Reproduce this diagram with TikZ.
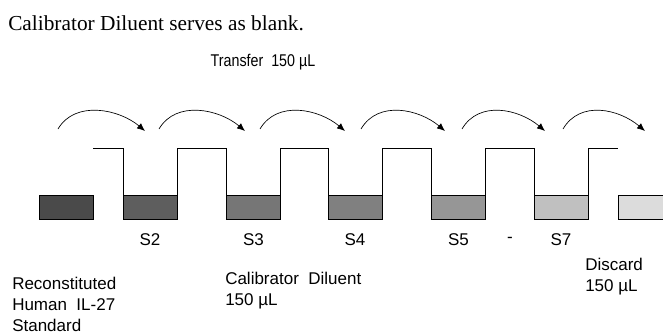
\documentclass[tikz,border=0pt]{standalone}
\usepackage{fontspec}
\setmainfont{Liberation Sans}
\newfontfamily\notefont{Liberation Serif}
\usetikzlibrary{positioning,arrows.meta}

\definecolor{stdgray}{HTML}{4A4A4A}
\definecolor{gray2}{HTML}{5E5E5E}
\definecolor{gray3}{HTML}{767676}
\definecolor{gray4}{HTML}{808080}
\definecolor{gray5}{HTML}{969696}
\definecolor{gray7}{HTML}{C0C0C0}
\definecolor{wastegray}{HTML}{DCDCDC}

\tikzset{
  well/.style={draw=black, line width=0.7pt, minimum width=40.5pt, minimum height=18pt, inner sep=0pt, outer sep=0pt},
  lbl/.style={font=\fontsize{12.75}{15.75}\selectfont, inner sep=0pt},
  transfer/.style={-{Latex[length=6pt,width=5pt]}, line width=0.5pt},
  plate/.style={line width=0.7pt}
}

\begin{document}
\begin{tikzpicture}[x=0.75pt,y=-0.75pt]
  \useasboundingbox (0,0) rectangle (663,335);

  \node[anchor=base west, inner sep=0pt, font=\notefont\fontsize{16}{19}\selectfont] (note) at (8,31) {Calibrator Diluent serves as blank.};
  \node[lbl] (transfer) at (263,62) {\scalebox{0.84}[1]{Transfer~ 150 µL}};

  % tubes
  \node[well, fill=stdgray] (std) at (66.5,207) {};
  \node[well, fill=gray2] (s2) at (150,207) {};
  \node[well, fill=gray3] (s3) at (253.5,207) {};
  \node[well, fill=gray4] (s4) at (355,207) {};
  \node[well, fill=gray5] (s5) at (458.5,207) {};
  \node[well, fill=gray7] (s7) at (561,207) {};
  \node[well, fill=wastegray] (waste) at (645.5,207) {};

  \coordinate (rim) at (0,148);
  \draw[plate] (93,148) foreach \s in {s2,s3,s4,s5,s7} {
      -| (\s.north west) -- (\s.north east) -- (\s.north east |- rim)
    } -- (618,148);

  \foreach \i in {0,...,5} {
    \coordinate (from\i) at ({58+101*\i},129);
    \coordinate (to\i) at ({145+100*\i},131);
    \draw[transfer] (from\i) .. controls +(17,-29) and +(-26,-22) .. (to\i);
  }

  \node[lbl, below=10.5pt of s2] (s2-label) {S2};
  \node[lbl, below=10.5pt of s3] (s3-label) {S3};
  \node[lbl, below=10.5pt of s4] (s4-label) {S4};
  \node[lbl, below=10.5pt of s5] (s5-label) {S5};
  \node[lbl, below=10.5pt of s7] (s7-label) {S7};
  \node[lbl] (dash) at (510,240) {-};

  \node[lbl, align=left, anchor=north west] (std-label) at (12,277) {Reconstituted\\Human~ IL-27\\Standard};
  \node[lbl, align=left, anchor=north west] (diluent) at (225,272) {Calibrator~ Diluent\\150 µL};
  \node[lbl, align=left, anchor=north west] (discard) at (585,258) {Discard\\150 µL};
\end{tikzpicture}
\end{document}
